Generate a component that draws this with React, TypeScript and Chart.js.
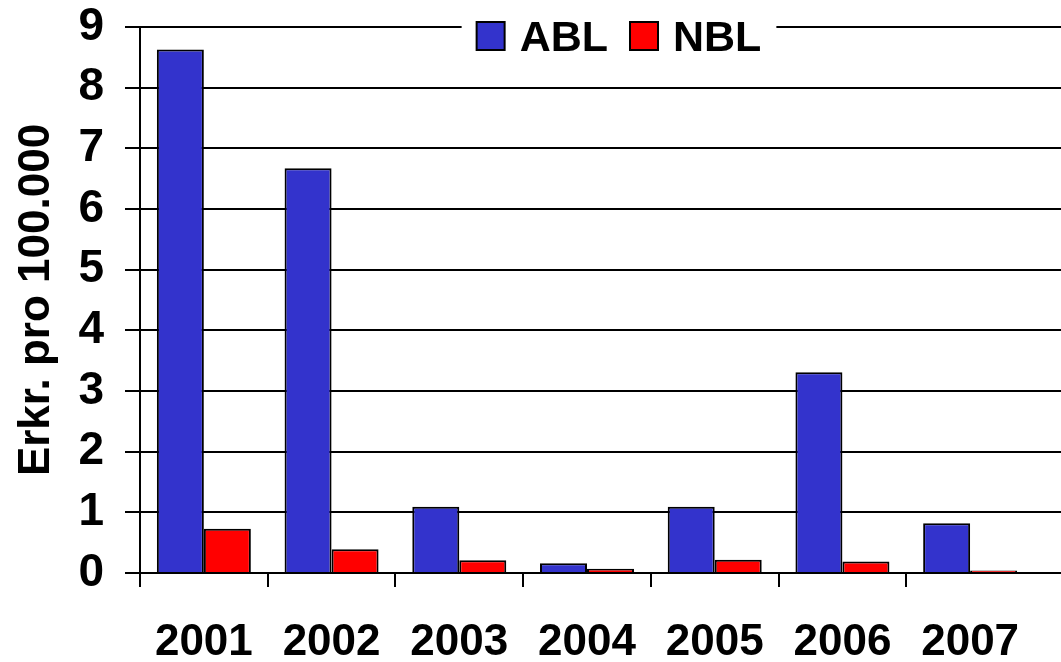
import React, { useEffect, useRef } from "react";
import { Chart, registerables } from "chart.js";

Chart.register(...registerables);

const years = ["2001", "2002", "2003", "2004", "2005", "2006", "2007"];
const ablValues = [8.63, 6.67, 1.09, 0.16, 1.09, 3.31, 0.82];
const nblValues = [0.73, 0.39, 0.21, 0.07, 0.22, 0.19, 0.04];
const yTicks = [0, 1, 2, 3, 4, 5, 6, 7, 8, 9];
const seriesNames = ["ABL", "NBL"];
const seriesColors = ["#3333CC", "#FF0000"];
const yTitle = "Erkr. pro 100.000";

const FONT = '"Liberation Sans", Arial, Helvetica, sans-serif';

const extendGridAndLegend = {
  id: "extendGridAndLegend",
  afterDraw(chart: any) {
    const ctx = chart.ctx;
    const area = chart.chartArea;
    const yScale = chart.scales.y;
    ctx.save();
    ctx.strokeStyle = "#000";
    yTicks.forEach((v) => {
      const py = Math.round(yScale.getPixelForValue(v));
      ctx.lineWidth = 2;
      ctx.beginPath();
      ctx.moveTo(area.right - 1, py);
      ctx.lineTo(chart.width, py);
      ctx.stroke();
    });
    const fontSize = 43;
    ctx.font = `bold ${fontSize}px ${FONT}`;
    const box = 28;
    const gapBoxText = 15;
    const gapItems = 22;
    const widths = seriesNames.map((n) => ctx.measureText(n).width);
    const total =
      widths.reduce((a, b) => a + b, 0) + seriesNames.length * (box + gapBoxText) + gapItems * (seriesNames.length - 1);
    const centerX = 619;
    const topY = yScale.getPixelForValue(9);
    const pad = 15;
    let x = centerX - total / 2;
    ctx.fillStyle = "#fff";
    ctx.fillRect(x - pad, topY - 6, total + pad * 2, 12);
    seriesNames.forEach((name, i) => {
      ctx.fillStyle = seriesColors[i];
      ctx.fillRect(x, topY - box / 2 + 9, box, box);
      ctx.lineWidth = 2;
      ctx.strokeStyle = "#000";
      ctx.strokeRect(x, topY - box / 2 + 9, box, box);
      x += box + gapBoxText;
      ctx.fillStyle = "#000";
      ctx.textBaseline = "alphabetic";
      ctx.textAlign = "left";
      ctx.fillText(name, x, topY + 24);
      x += widths[i] + gapItems;
    });
    ctx.restore();
  },
};

export default function App() {
  const canvasRef = useRef<HTMLCanvasElement | null>(null);

  useEffect(() => {
    if (!canvasRef.current) return;
    const chart = new Chart(canvasRef.current, {
      type: "bar",
      data: {
        labels: years,
        datasets: [
          {
            label: seriesNames[0],
            data: ablValues,
            backgroundColor: seriesColors[0],
            borderColor: "#000",
            borderWidth: 2,
          },
          {
            label: seriesNames[1],
            data: nblValues,
            backgroundColor: seriesColors[1],
            borderColor: "#000",
            borderWidth: 2,
          },
        ],
      },
      options: {
        animation: false,
        responsive: true,
        maintainAspectRatio: false,
        layout: { padding: { top: 27, right: 27, left: 0, bottom: 0 } },
        datasets: {
          bar: { categoryPercentage: 0.736, barPercentage: 1 },
        },
        plugins: {
          legend: { display: false },
          tooltip: { enabled: false },
        },
        scales: {
          x: {
            type: "category",
            offset: true,
            grid: {
              offset: true,
              drawOnChartArea: false,
              drawTicks: true,
              tickLength: 14,
              lineWidth: 2,
              color: (c: any) => (c.type === "tick" ? "#000" : "rgba(0,0,0,0)"),
            },
            border: { display: true, color: "#000", width: 2 },
            ticks: {
              color: "#000",
              padding: 29,
              maxRotation: 0,
              autoSkip: false,
              font: { family: FONT, size: 44, weight: "bold" },
            },
            afterFit: (s: any) => {
              s.height = 89;
              s.paddingLeft = 0;
              s.paddingRight = 0;
            },
          },
          y: {
            min: 0,
            max: 9,
            afterBuildTicks: (s: any) => {
              s.ticks = yTicks.map((v) => ({ value: v }));
            },
            grid: {
              color: "#000",
              lineWidth: 2,
              drawTicks: true,
              tickLength: 15,
            },
            border: { display: true, color: "#000", width: 2 },
            ticks: {
              color: "#000",
              padding: 21,
              font: { family: FONT, size: 46, weight: "bold" },
            },
            title: {
              display: true,
              text: yTitle,
              color: "#000",
              padding: { top: 10, bottom: 0 },
              font: { family: FONT, size: 44, weight: "bold" },
            },
            afterFit: (s: any) => {
              s.width = 140;
              s.paddingTop = 0;
              s.paddingBottom = 0;
            },
          },
        },
      },
      plugins: [extendGridAndLegend],
    });
    return () => chart.destroy();
  }, []);

  return (
    <div
      style={{
        position: "fixed",
        left: 0,
        top: 0,
        width: 1061,
        height: 662,
        background: "#fff",
      }}
    >
      <canvas ref={canvasRef} />
    </div>
  );
}
